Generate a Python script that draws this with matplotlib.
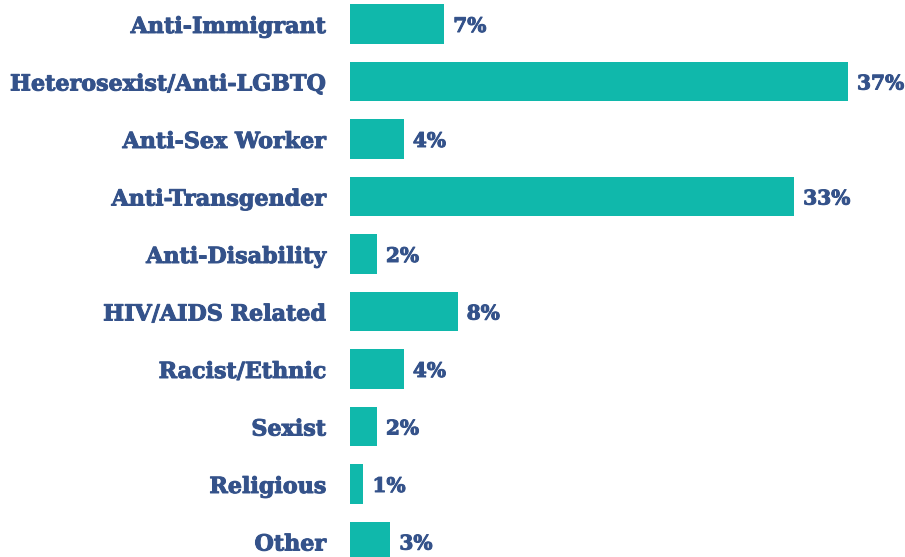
import matplotlib
matplotlib.use('Agg')
import matplotlib.pyplot as plt
import matplotlib.patheffects as pe

categories = ['Anti-Immigrant', 'Heterosexist/Anti-LGBTQ', 'Anti-Sex Worker',
              'Anti-Transgender', 'Anti-Disability', 'HIV/AIDS Related',
              'Racist/Ethnic', 'Sexist', 'Religious', 'Other']
values = [7, 37, 4, 33, 2, 8, 4, 2, 1, 3]

bar_color = '#10b8ab'
text_color = '#34528a'

fig = plt.figure(figsize=(9.05, 5.57), dpi=100)
ax = fig.add_axes([350 / 905, 0, 555 / 905, 1])

pos = list(range(len(categories)))
ax.barh(pos, values, height=0.68, color=bar_color)

ax.set_xlim(0, 555 / 13.46)
ax.set_ylim(533 / 57.5, -24 / 57.5)

# slab font in the original is heavier than DejaVu Serif Bold
heavy = [pe.withStroke(linewidth=0.7, foreground=text_color)]

for y, v, name in zip(pos, values, categories):
    ax.annotate('{}%'.format(v), xy=(v, y), xytext=(9, -2), textcoords='offset pixels',
                va='center', ha='left', fontsize=14.5, fontweight='bold',
                family='DejaVu Serif', color=text_color, annotation_clip=False,
                path_effects=heavy)
    ax.annotate(name, xy=(0, y), xytext=(-24, -3), textcoords='offset pixels',
                va='center', ha='right', fontsize=16, fontweight='bold',
                family='DejaVu Serif', color=text_color, annotation_clip=False,
                path_effects=heavy)

ax.axis('off')
fig.savefig('out.png', dpi=100)
